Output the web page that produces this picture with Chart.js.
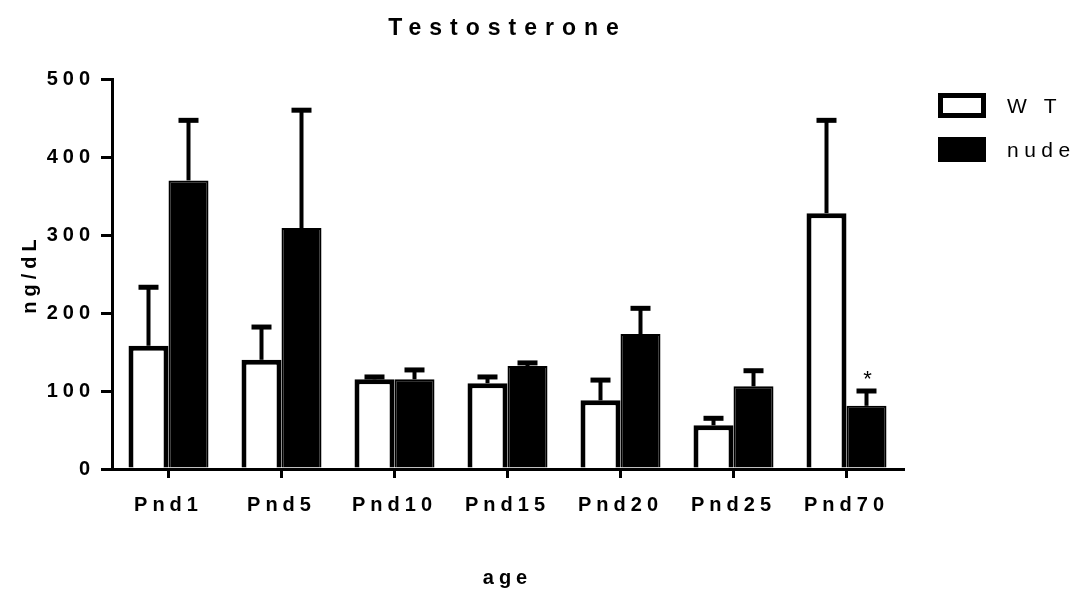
<!DOCTYPE html>
<html>
<head>
<meta charset="utf-8">
<script src="https://cdn.jsdelivr.net/npm/chart.js@4.4.1/dist/chart.umd.min.js"></script>
<style>
  html, body { margin: 0; padding: 0; background: #fff; }
  #wrap { width: 1078px; height: 599px; }
</style>
</head>
<body>
<div id="wrap"><canvas id="c" width="1078" height="599"></canvas></div>
<script>
// ---- data ----
const categories = ['Pnd1', 'Pnd5', 'Pnd10', 'Pnd15', 'Pnd20', 'Pnd25', 'Pnd70'];
const wtMean   = [158, 140, 115, 110, 88, 56, 328];
const wtSem    = [75, 42, 3, 8, 26, 9, 119];
const nudeMean = [370, 309, 115, 132, 173, 106, 81];
const nudeSem  = [77, 151, 12, 4, 33, 20, 19];
const nudeMarks = ['', '', '', '', '', '', '*'];
const wtMarks   = ['', '', '', '', '', '', ''];
const yTickValues = [0, 100, 200, 300, 400, 500];
const seriesLabels = ['W T', 'nude'];

// ---- letter spacing per font size (the reference uses widely spaced text) ----
const LETTER_SPACING = { 23: 8, 20: 5, 21: 5.5 };
(function () {
  const proto = CanvasRenderingContext2D.prototype;
  const spacingFor = (font) => {
    const m = /(\d+(?:\.\d+)?)px/.exec(font || '');
    const s = m ? LETTER_SPACING[+m[1]] : undefined;
    return (s || 0) + 'px';
  };
  const origFill = proto.fillText;
  const origMeasure = proto.measureText;
  proto.fillText = function (t, x, y, w) {
    if ('letterSpacing' in this) this.letterSpacing = spacingFor(this.font);
    return w === undefined ? origFill.call(this, t, x, y) : origFill.call(this, t, x, y, w);
  };
  proto.measureText = function (t) {
    if ('letterSpacing' in this) this.letterSpacing = spacingFor(this.font);
    return origMeasure.call(this, t);
  };
})();

const FONT = "'Liberation Sans', Arial, sans-serif";
const errorsBySeries = [wtSem, nudeSem];
const marksBySeries = [wtMarks, nudeMarks];

const errorBarPlugin = {
  id: 'errorBars',
  afterDatasetsDraw(chart) {
    const ctx = chart.ctx;
    const yScale = chart.scales.y;
    chart.data.datasets.forEach((ds, i) => {
      const meta = chart.getDatasetMeta(i);
      meta.data.forEach((bar, j) => {
        const err = errorsBySeries[i][j];
        const topPx = yScale.getPixelForValue(ds.data[j] + err);
        ctx.save();
        ctx.strokeStyle = '#000';
        ctx.lineCap = 'butt';
        ctx.lineWidth = 4;
        ctx.beginPath();
        ctx.moveTo(bar.x, bar.y);
        ctx.lineTo(bar.x, topPx);
        ctx.stroke();
        ctx.lineWidth = 5;
        ctx.beginPath();
        ctx.moveTo(bar.x - 10, topPx);
        ctx.lineTo(bar.x + 10, topPx);
        ctx.stroke();
        const mark = marksBySeries[i][j];
        if (mark) {
          ctx.fillStyle = '#000';
          ctx.font = '22px ' + FONT;
          ctx.textAlign = 'center';
          ctx.textBaseline = 'alphabetic';
          ctx.fillText(mark, bar.x + 1, topPx - 5);
        }
        ctx.restore();
      });
    });
  }
};

// legend drawn to match the reference's spacing (box, gap, text)
const sideLegend = {
  id: 'sideLegend',
  afterDraw(chart) {
    const ctx = chart.ctx;
    const area = chart.chartArea;
    const x0 = area.right + 35;
    const y0 = area.top + 14;
    const rowGap = 44;
    ctx.save();
    chart.data.datasets.forEach((ds, i) => {
      const y = y0 + i * rowGap;
      if (ds.backgroundColor === '#ffffff') {
        ctx.lineWidth = 5;
        ctx.strokeStyle = ds.borderColor;
        ctx.fillStyle = ds.backgroundColor;
        ctx.fillRect(x0 + 2.5, y + 2.5, 43, 20);
        ctx.strokeRect(x0 + 2.5, y + 2.5, 43, 20);
      } else {
        ctx.fillStyle = ds.backgroundColor;
        ctx.fillRect(x0, y, 48, 25);
      }
      ctx.fillStyle = '#000';
      ctx.font = '21px ' + FONT;
      ctx.textAlign = 'left';
      ctx.textBaseline = 'middle';
      ctx.fillText(ds.label, x0 + 69, y + 14);
    });
    ctx.restore();
  }
};

Chart.defaults.font.family = FONT;
Chart.defaults.color = '#000';

new Chart(document.getElementById('c'), {
  type: 'bar',
  data: {
    labels: categories,
    datasets: [
      {
        label: seriesLabels[0],
        data: wtMean,
        backgroundColor: '#ffffff',
        borderColor: '#000000',
        borderWidth: 5,
        borderSkipped: 'start',
        categoryPercentage: 0.708,
        barPercentage: 1.0
      },
      {
        label: seriesLabels[1],
        data: nudeMean,
        backgroundColor: '#000000',
        borderColor: '#000000',
        borderWidth: 2,
        borderSkipped: 'start',
        categoryPercentage: 0.708,
        barPercentage: 1.0
      }
    ]
  },
  options: {
    responsive: false,
    animation: false,
    events: [],
    devicePixelRatio: 1,
    layout: { padding: { left: 0, right: 175, top: 0, bottom: 0 } },
    plugins: {
      tooltip: { enabled: false },
      legend: { display: false },
      title: {
        display: true,
        text: 'Testosterone',
        fullSize: false,
        color: '#000',
        font: { size: 23, weight: 'bold' },
        padding: { top: 15, bottom: 36.4 }
      }
    },
    scales: {
      x: {
        type: 'category',
        offset: true,
        grid: {
          display: true,
          offset: false,
          drawOnChartArea: false,
          drawTicks: true,
          tickLength: 9,
          tickWidth: 3,
          tickColor: '#000',
          color: '#000',
          lineWidth: 3
        },
        border: { display: true, color: '#000', width: 3 },
        ticks: {
          color: '#000',
          font: { size: 20, weight: 'bold' },
          padding: 15,
          maxRotation: 0,
          autoSkip: false
        },
        title: {
          display: true,
          text: 'age',
          color: '#000',
          font: { size: 20, weight: 'bold' },
          padding: { top: 0, bottom: 9 }
        },
        afterFit(scale) { scale.height = 130; }
      },
      y: {
        type: 'linear',
        min: 0,
        max: 500,
        afterBuildTicks(scale) { scale.ticks = yTickValues.map(v => ({ value: v })); },
        grid: {
          display: true,
          drawOnChartArea: false,
          drawTicks: true,
          tickLength: 11,
          tickWidth: 3,
          tickColor: '#000',
          color: '#000',
          lineWidth: 3
        },
        border: { display: true, color: '#000', width: 3 },
        ticks: {
          color: '#000',
          font: { size: 20, weight: 'bold' },
          padding: 6
        },
        title: {
          display: true,
          text: 'ng/dL',
          color: '#000',
          font: { size: 20, weight: 'bold' },
          padding: { top: 18, bottom: 0 }
        },
        afterFit(scale) { scale.width = 112; }
      }
    }
  },
  plugins: [errorBarPlugin, sideLegend]
});
</script>
</body>
</html>
